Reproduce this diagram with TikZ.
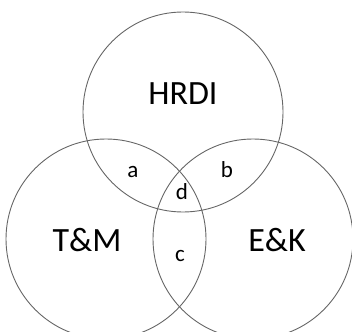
\documentclass[tikz,border=0pt]{standalone}
\usepackage{fontspec}
\setmainfont{Carlito}
\usetikzlibrary{positioning}

\begin{document}
\begin{tikzpicture}[x=1pt,y=-1pt]
		\useasboundingbox (0,0) rectangle (352,331);
		\begin{scope}[every node/.style={circle,draw=black!60,line width=0.9pt,minimum size=200pt,inner sep=0pt}]
			\node (hrdi) at (183,112) {};
			\node (tm) at (106,239) {};
			\node (ek) at (253,239) {};
		\end{scope}

		\begin{scope}[every node/.style={font=\fontsize{34}{34}\selectfont,inner sep=0pt}]
			\node (hrdiText) at (183,94) {HRDI};
			\node (tmText) at (87,240) {T\&M};
			\node (ekText) at (277,240) {E\&K};
		\end{scope}

		\begin{scope}[every node/.style={font=\fontsize{23}{23}\selectfont,inner sep=0pt}]
			\node (a) at (133,172) {a};
			\node (b) at (227,170) {b};
			\node (d) at (182,192) {d};
			\node (c) at (180,256) {c};
		\end{scope}
	\end{tikzpicture}
\end{document}
